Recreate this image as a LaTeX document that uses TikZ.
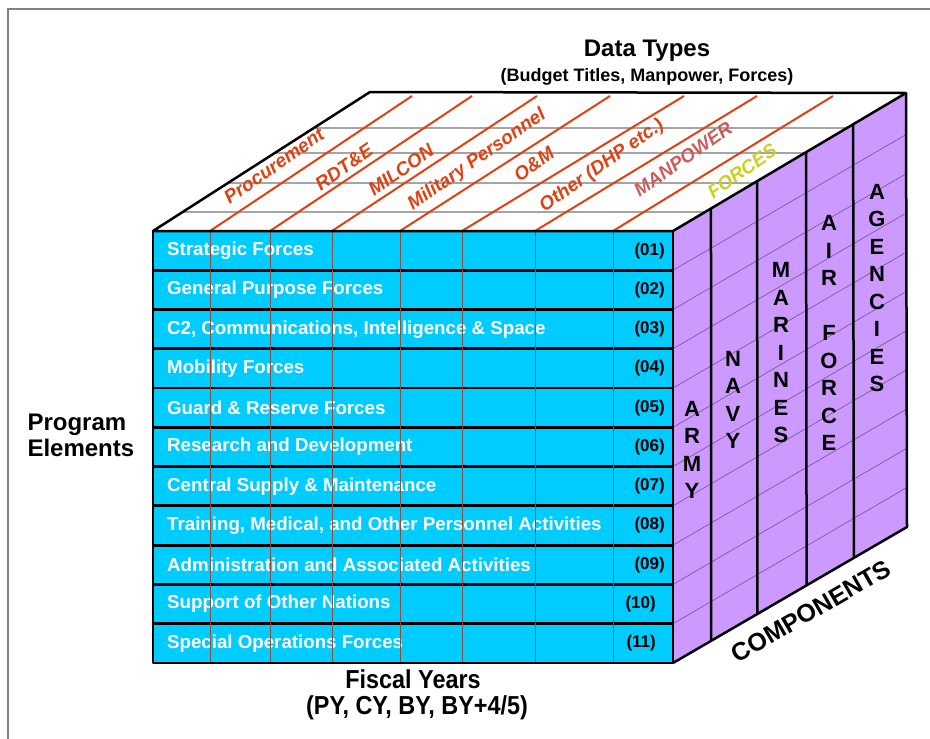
\documentclass[tikz,border=0pt]{standalone}
\usepackage{fontspec}
\setmainfont{Liberation Sans}
\usepackage{tikz}
\usetikzlibrary{calc}
\definecolor{framecolor}{RGB}{128, 128, 128}
\definecolor{frontcolor}{RGB}{0, 204, 255}
\definecolor{sidecolor}{RGB}{204, 153, 255}
\definecolor{typecolor}{RGB}{222, 66, 18}
\definecolor{manpowercolor}{RGB}{204, 92, 92}
\definecolor{forcescolor}{RGB}{206, 206, 30}
\definecolor{topgrid}{RGB}{165, 165, 165}
\definecolor{sidegrid}{RGB}{120, 80, 150}
\definecolor{yeargrid}{RGB}{140, 80, 60}

\begin{document}
\begin{tikzpicture}[x=1pt, y=-1pt,
    rowtext/.style={font=\fontsize{18.7}{20}\selectfont\bfseries, text=white, inner sep=0, anchor=west},
    numtext/.style={font=\fontsize{17}{19}\selectfont\bfseries, inner sep=0, anchor=east},
    typetext/.style={font=\fontsize{19}{21}\selectfont\bfseries\itshape, inner sep=0, rotate=35},
    vword/.style={font=\fontsize{22}{27.5}\selectfont\bfseries, align=center, inner sep=0},
    edge/.style={line width=2.5, line join=round}]
    \useasboundingbox (0, 0) rectangle (930, 739);

    % Frame
    \draw[framecolor, line width=1.5] (8, 739) -- (8, 9) -- (930, 9);

    % Faces
    \fill[white] (153, 231) -- (370, 92) -- (906, 93) -- (673, 231) -- cycle;
    \fill[frontcolor] (153, 231) rectangle (673, 663);
    \fill[sidecolor] (673, 231) -- (906, 93) -- (907, 527) -- (673, 663) -- cycle;

    % Top face grid
    \begin{scope}
        \clip (153, 231) -- (370, 92) -- (906, 93) -- (673, 231) -- cycle;
        \foreach \y in {128, 153, 183, 212}
            \draw[topgrid, line width=1.2] (150, \y) -- (910, \y);
    \end{scope}

    % Data type lines
    \foreach \a/\b in {210/412, 270/472, 332/537, 400/610, 462/684, 535/757, 613/833}
        \draw[typecolor, line width=2] (\a, 231) -- (\b, 96);

    % Data type labels
    \foreach \name/\x/\y/\c [count=\i] in {Procurement/274/166/typecolor, RDT\&E/344/167/typecolor,
        MILCON/401/170/typecolor, Military Personnel/477/160/typecolor, O\&M/534/164/typecolor,
        Other (DHP etc.)/602/166/typecolor, MANPOWER/683/159/manpowercolor, FORCES/742/171/forcescolor}
        \node[typetext, text=\c] (type\i) at (\x, \y) {\name};

    % Component grid
    \foreach \k in {1,...,10}
        \draw[sidegrid, line width=0.6] (673, 231+39.27*\k) -- (906.5, 95+39.27*\k);

    % Component columns
    \foreach \t in {0.163, 0.361, 0.571, 0.773}
        \draw[line width=2.5] ($(673, 231)!\t!(906, 93)$) -- ($(673, 663)!\t!(907, 527)$);

    % Program element rows
    \foreach \k in {1,...,10}
        \draw[line width=2.8] (153, 231+39.27*\k) -- (673, 231+39.27*\k);

    \foreach \name/\num/\x [count=\i] in {Strategic Forces/01/665, General Purpose Forces/02/665,
        {C2, Communications, Intelligence \& Space}/03/665, Mobility Forces/04/665,
        Guard \& Reserve Forces/05/665, Research and Development/06/665,
        Central Supply \& Maintenance/07/665, {Training, Medical, and Other Personnel Activities}/08/665,
        Administration and Associated Activities/09/665, Support of Other Nations/10/656,
        Special Operations Forces/11/656} {
        \node[rowtext] (pe\i) at (167, 211.4+39.27*\i) {\name};
        \node[numtext] (num\i) at (\x, 211.4+39.27*\i) {(\num)};
    }

    % Fiscal year lines
    \foreach \a in {210, 270, 332, 400, 462, 535, 613}
        \draw[yeargrid, line width=0.4] (\a, 231) -- (\a, 663);

    % Outline
    \draw[edge] (153, 231) -- (370, 92) -- (906, 93) -- (673, 231) -- cycle;
    \draw[edge] (153, 231) rectangle (673, 663);
    \draw[edge] (906, 93) -- (907, 527) -- (673, 663);

    % Components
    \node[vword] (army) at (692, 450) {A\\R\\M\\Y};
    \node[vword] (navy) at (733, 400) {N\\A\\V\\Y};
    \node[vword] (marines) at (781, 353) {M\\A\\R\\I\\N\\E\\S};
    \node[vword] (airforce) at (829, 333) {A\\I\\R\\[27.5pt]F\\O\\R\\C\\E};
    \node[vword] (agencies) at (877, 288) {A\\G\\E\\N\\C\\I\\E\\S};

    % Axis titles
    \node[font=\fontsize{24}{26}\selectfont\bfseries] (datatypes) at (647, 51) {Data Types};
    \node[font=\fontsize{18}{20}\selectfont\bfseries] (datasub) at (647, 77) {(Budget Titles, Manpower, Forces)};
    \node[font=\fontsize{24}{26}\selectfont\bfseries, align=left, anchor=west] (progel) at (24, 435) {Program\\Elements};
    \node[font=\fontsize{26}{28}\selectfont\bfseries] (fiscal) at (413, 679) {\scalebox{0.9}[1]{Fiscal Years}};
    \node[font=\fontsize{26}{28}\selectfont\bfseries] (fiscalsub) at (417, 708) {\scalebox{0.9}[1]{(PY, CY, BY, BY+4/5)}};
    \node[font=\fontsize{25}{27}\selectfont\bfseries, rotate=30] (components) at (811, 611) {COMPONENTS};

\end{tikzpicture}
\end{document}
